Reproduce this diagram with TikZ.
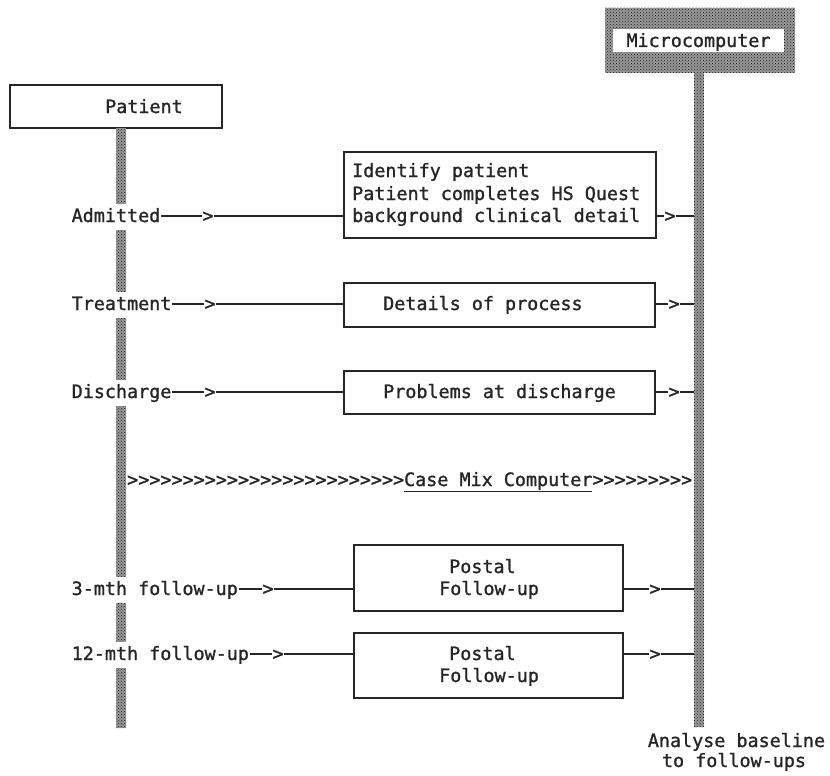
\documentclass[tikz,border=0pt]{standalone}
\usepackage{fontspec}
\newfontfamily\mono[FakeBold=1.2]{DejaVu Sans Mono}
\usetikzlibrary{patterns}
\begin{document}
\begin{tikzpicture}[x=1pt,y=-1pt,
  every node/.style={font=\mono\fontsize{18.4}{22.5}\selectfont, text=black!85},
  txt/.style={anchor=base west, inner sep=0pt},
  lbl/.style={anchor=base west, fill=white, inner xsep=0.5pt, inner ysep=5pt,
              text height=13pt, text depth=3pt},
  gt/.style={inner sep=0pt, text height=12pt, text depth=0pt},
  stagebox/.style={draw=black!85, line width=1.3pt, inner sep=0pt, fill=white},
  stipple/.style={preaction={fill=black!40}, pattern=crosshatch dots,
                  pattern color=black!90, inner sep=0pt},
  wire/.style={draw=black!85, line width=1.1pt}
]
\useasboundingbox (0,0) rectangle (830,776);

% Microcomputer header and its timeline
\node[stipple, minimum width=190pt, minimum height=65pt] (micro) at (700,40.5) {};
\node[fill=white, inner sep=0pt, minimum width=171pt, minimum height=23pt,
      text height=13pt, text depth=0pt] (microlbl) at (698.5,40.5) {Microcomputer};
\node[stipple, minimum width=10pt, minimum height=654pt, anchor=north] (mbar) at (699,73) {};

% Patient header and its timeline
\node[stagebox, minimum width=212pt, minimum height=43pt] (patient) at (116,106.5) {};
\node[txt] (patientlbl) at (105,113) {Patient};
\node[stipple, minimum width=10pt, minimum height=600pt, anchor=north] (pbar) at (121,128) {};

% Stage boxes
\node[stagebox, minimum width=312pt, minimum height=86pt] (box1) at (500,195) {};
\node[stagebox, minimum width=311pt, minimum height=44pt] (box2) at (499.5,305) {};
\node[stagebox, minimum width=311pt, minimum height=43pt] (box3) at (499.5,392.5) {};
\node[stagebox, minimum width=269pt, minimum height=66pt] (box4) at (488.5,578) {};
\node[stagebox, minimum width=269pt, minimum height=65pt] (box5) at (488.5,665.5) {};

% Box texts
\node[txt] (box1a) at (352,177) {Identify patient};
\node[txt] (box1b) at (352,200) {Patient completes HS Quest};
\node[txt] (box1c) at (352,222) {background clinical detail};
\node[txt] (box2a) at (383,310) {Details of process};
\node[txt] (box3a) at (383,398) {Problems at discharge};
\node[txt] (box4a) at (449,573) {Postal};
\node[txt] (box4b) at (439,595) {Follow-up};
\node[txt] (box5a) at (449,660) {Postal};
\node[txt] (box5b) at (439,682) {Follow-up};

% Event labels on the patient timeline
\node[lbl] (adm) at (71,222) {Admitted};
\node[lbl] (treat) at (71,310) {Treatment};
\node[lbl] (disch) at (71,398) {Discharge};
\node[lbl] (fu3) at (71,595) {3-mth follow-up};
\node[lbl] (fu12) at (71,660) {12-mth follow-up};

% Arrow glyphs, patient side
\node[gt] (a1) at (208,216) {>};
\node[gt] (a2) at (210,304) {>};
\node[gt] (a3) at (210,392) {>};
\node[gt] (a4) at (268,589) {>};
\node[gt] (a5) at (278,654) {>};

% Arrow glyphs, microcomputer side
\node[gt] (b1) at (670,216) {>};
\node[gt] (b2) at (674,304) {>};
\node[gt] (b3) at (674,392) {>};
\node[gt] (b4) at (655,589) {>};
\node[gt] (b5) at (655,654) {>};

% Connectors
\foreach \l/\a/\b/\r in {adm/a1/box1/b1, treat/a2/box2/b2, disch/a3/box3/b3,
                        fu3/a4/box4/b4, fu12/a5/box5/b5} {
  \draw[wire] (\l.east |- \a) -- (\a.west);
  \draw[wire] (\a.east) -- (\b.west |- \a);
  \draw[wire] (\b.east |- \r) -- (\r.west);
  \draw[wire] (\r.east) -- (mbar.west |- \r);
}

% Case mix transfer
\node[txt] (casemix) at (127,486)
  {>>>>>>>>>>>>>>>>>>>>>>>>>\underline{Case Mix Computer}>>>>>>>>>};

% Analysis note
\node[anchor=base, inner sep=0pt] (analyse1) at (736.5,747) {Analyse baseline};
\node[anchor=base, inner sep=0pt] (analyse2) at (734,767) {to follow-ups};
\end{tikzpicture}
\end{document}
